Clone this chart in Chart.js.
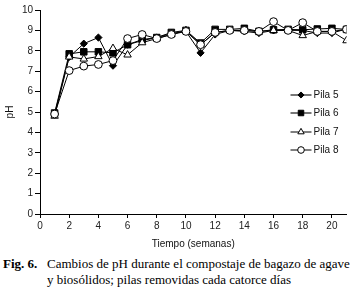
<!DOCTYPE html>
<html><head><meta charset="utf-8">
<script src="https://cdn.jsdelivr.net/npm/chart.js@4"></script>
<style>
body{margin:0;background:#fff;width:357px;height:289px;overflow:hidden;position:relative}
#wrap{position:absolute;left:0;top:0;width:357px;height:252px}
.cap{position:absolute;font-family:'Liberation Serif','Times New Roman',serif;font-size:13px;color:#000;white-space:nowrap;line-height:16px}
</style></head><body>
<div id="wrap"><canvas id="c"></canvas></div>
<div class="cap" style="left:3px;top:256px"><b>Fig. 6.</b></div>
<div class="cap" style="left:47px;top:256px">Cambios de pH durante el compostaje de bagazo de agave</div>
<div class="cap" style="left:47px;top:272px">y biosólidos; pilas removidas cada catorce días</div>
<script>
const weeks = [1,2,3,4,5,6,7,8,9,10,11,12,13,14,15,16,17,18,19,20,21];
const pila5 = [4.9,7.7,8.35,8.65,7.27,8.3,8.5,8.65,8.85,8.95,7.9,8.8,9.0,8.95,8.87,9.0,9.0,9.0,8.87,8.87,9.07];
const pila6 = [4.95,7.85,7.95,7.95,7.9,8.3,8.55,8.65,8.9,9.0,8.38,9.05,9.05,9.1,8.95,9.03,9.05,9.03,9.07,9.1,9.05];
const pila7 = [4.8,7.7,7.6,7.72,8.12,7.8,8.4,8.6,8.8,9.0,8.3,8.9,9.0,9.0,8.95,9.0,9.0,8.75,8.95,8.95,8.5];
const pila8 = [4.9,7.03,7.25,7.33,7.52,8.6,8.8,8.6,8.8,8.95,8.3,8.9,9.0,9.0,8.95,9.43,9.0,9.38,8.95,8.95,9.05];
const seriesNames = ['Pila 5','Pila 6','Pila 7','Pila 8'];
const xTicks = [0,2,4,6,8,10,12,14,16,18,20];
const yTicks = [0,1,2,3,4,5,6,7,8,9,10];

const toXY = arr => arr.map((v,i)=>({x:weeks[i], y:v}));
const styles = [
  {pointStyle:'rectRot', pointRadius:3.6, bg:'#000'},
  {pointStyle:'rect', pointRadius:4.6, bg:'#000'},
  {pointStyle:'triangle', pointRadius:4.3, bg:'#fff'},
  {pointStyle:'circle', pointRadius:3.9, bg:'#fff'}
];
const seriesData = [pila5,pila6,pila7,pila8];
const datasets = seriesData.map((d,i)=>({
  label: seriesNames[i],
  data: toXY(d),
  borderColor:'#000',
  borderWidth:1,
  backgroundColor: styles[i].bg,
  pointBackgroundColor: styles[i].bg,
  pointBorderColor:'#000',
  pointBorderWidth:1,
  pointStyle: styles[i].pointStyle,
  pointRadius: styles[i].pointRadius,
  tension:0,
  order: 4-i
}));

const legendPlugin = {
  id:'customLegend',
  afterDraw(chart){
    const ctx = chart.ctx;
    const ca = chart.chartArea;
    const x0 = ca.right - 56, x1 = ca.right - 35;
    const ys = [ca.top+85, ca.top+103, ca.top+122, ca.top+140];
    chart.data.datasets.forEach((ds,i)=>{
      const y = ys[i];
      ctx.save();
      ctx.strokeStyle = i<2 ? '#555' : '#000';
      ctx.lineWidth = i<2 ? 1.6 : 1;
      ctx.beginPath(); ctx.moveTo(x0,y); ctx.lineTo(x1,y); ctx.stroke();
      ctx.fillStyle = ds.pointBackgroundColor;
      ctx.strokeStyle = '#000';
      ctx.lineWidth = 1;
      Chart.helpers.drawPoint(ctx, {pointStyle: ds.pointStyle, rotation:0, borderWidth:1, radius: ds.pointRadius*0.85}, (x0+x1)/2, y);
      ctx.restore();
      ctx.save();
      ctx.fillStyle = '#111';
      ctx.font = '10px "Liberation Sans", Arial, sans-serif';
      ctx.textBaseline = 'middle';
      ctx.textAlign = 'left';
      ctx.fillText(ds.label, x1+2, y);
      ctx.restore();
    });
  }
};

const tickFont = {family:'"Liberation Sans", Arial, sans-serif', size:10};
new Chart(document.getElementById('c'), {
  type:'line',
  data:{datasets},
  plugins:[legendPlugin],
  options:{
    responsive:true,
    maintainAspectRatio:false,
    animation:false,
    layout:{padding:{top:10,right:10.5,bottom:2,left:0}},
    plugins:{legend:{display:false}, tooltip:{enabled:false}},
    scales:{
      x:{
        type:'linear', min:0, max:21,
        afterBuildTicks: s => { s.ticks = xTicks.map(v=>({value:v})); },
        ticks:{font:tickFont, color:'#222', padding:2, maxRotation:0, autoSkip:false},
        grid:{drawOnChartArea:false, drawTicks:true, tickLength:4, color:'#000'},
        border:{display:true, color:'#000', width:1},
        title:{display:true, text:'Tiempo (semanas)', font:tickFont, color:'#111', padding:{top:4,bottom:0}}
      },
      y:{
        min:0, max:10,
        afterBuildTicks: s => { s.ticks = yTicks.map(v=>({value:v})); },
        afterFit: s => { s.width = 40; },
        ticks:{font:tickFont, color:'#222', padding:2},
        grid:{drawOnChartArea:false, drawTicks:true, tickLength:5, color:'#000'},
        border:{display:true, color:'#000', width:1},
        title:{display:true, text:'pH', font:tickFont, color:'#111', padding:{top:4,bottom:0}}
      }
    }
  }
});
</script>
</body></html>
